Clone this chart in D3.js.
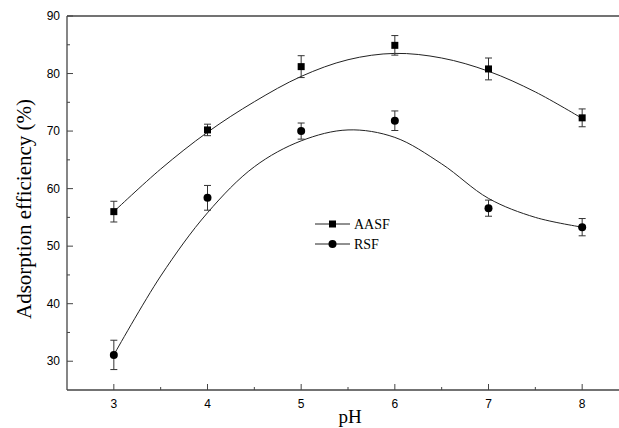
<!DOCTYPE html>
<html>
<head>
<meta charset="utf-8">
<script src="https://cdn.jsdelivr.net/npm/d3@7"></script>
<style>
  body { margin: 0; background: #fff; overflow: hidden; }
  svg { display: block; }
</style>
</head>
<body>
<div id="chart"></div>
<script>
// Measured points (pH, adsorption %, error)
const phValues = [3, 4, 5, 6, 7, 8];
const aasfValues = [56.0, 70.2, 81.2, 84.9, 80.8, 72.3];
const aasfErrors = [1.8, 1.0, 1.9, 1.7, 1.9, 1.55];
const rsfValues = [31.1, 58.4, 70.0, 71.8, 56.6, 53.3];
const rsfErrors = [2.55, 2.15, 1.4, 1.7, 1.4, 1.5];

// Fitted curves
const fitPh = [3, 3.5, 4, 4.5, 5, 5.5, 6, 6.5, 7, 7.5, 8];
const aasfFit = [56.0, 63.4, 69.8, 75.1, 79.5, 82.4, 83.5, 82.7, 80.4, 76.8, 72.2];
const rsfFit = [31.1, 44.8, 55.8, 63.8, 68.3, 70.2, 68.9, 64.3, 58.3, 55.0, 53.3];

const xTicks = [3, 4, 5, 6, 7, 8];
const yTicks = [30, 40, 50, 60, 70, 80, 90];

const width = 619;
const height = 428;

const svg = d3.select('#chart')
  .append('svg')
  .attr('width', width)
  .attr('height', height);

// plot area runs past the right edge of the picture, as in the original
const x = d3.scaleLinear().domain([2.5, 8.5]).range([67, 629]);
const y = d3.scaleLinear().domain([25, 90]).range([390, 16]);

const axisColor = '#444';

// frame: left, top and bottom only (right side is cut off)
const frame = svg.append('g')
  .attr('stroke', axisColor)
  .attr('stroke-width', 1.3);
frame.append('line')
  .attr('x1', x(2.5)).attr('x2', x(2.5))
  .attr('y1', y(90)).attr('y2', y(25));
frame.append('line')
  .attr('x1', x(2.5)).attr('x2', width)
  .attr('y1', y(90)).attr('y2', y(90));
frame.append('line')
  .attr('x1', x(2.5)).attr('x2', width)
  .attr('y1', y(25)).attr('y2', y(25));

// x ticks (inward)
const xMinor = d3.range(3.5, 8.5, 1);
svg.selectAll('.xmajor')
  .data(xTicks)
  .enter().append('line')
  .attr('x1', d => x(d)).attr('x2', d => x(d))
  .attr('y1', y(25)).attr('y2', y(25) - 6)
  .attr('stroke', axisColor).attr('stroke-width', 1);
svg.selectAll('.xminor')
  .data(xMinor)
  .enter().append('line')
  .attr('x1', d => x(d)).attr('x2', d => x(d))
  .attr('y1', y(25)).attr('y2', y(25) - 3)
  .attr('stroke', axisColor).attr('stroke-width', 1);
svg.selectAll('.xlabel')
  .data(xTicks)
  .enter().append('text')
  .attr('x', d => x(d))
  .attr('y', 408)
  .attr('text-anchor', 'middle')
  .style('font-family', '"Liberation Sans", Arial, sans-serif')
  .style('font-size', '12px')
  .text(d => d);

// y ticks (inward)
const yMinor = d3.range(35, 90, 10);
svg.selectAll('.ymajor')
  .data(yTicks)
  .enter().append('line')
  .attr('x1', x(2.5)).attr('x2', x(2.5) + 6)
  .attr('y1', d => y(d)).attr('y2', d => y(d))
  .attr('stroke', axisColor).attr('stroke-width', 1);
svg.selectAll('.yminor')
  .data(yMinor)
  .enter().append('line')
  .attr('x1', x(2.5)).attr('x2', x(2.5) + 3)
  .attr('y1', d => y(d)).attr('y2', d => y(d))
  .attr('stroke', axisColor).attr('stroke-width', 1);
svg.selectAll('.ylabel')
  .data(yTicks)
  .enter().append('text')
  .attr('x', 60)
  .attr('y', d => y(d) + 4)
  .attr('text-anchor', 'end')
  .style('font-family', '"Liberation Sans", Arial, sans-serif')
  .style('font-size', '12px')
  .text(d => d);

// axis titles
svg.append('text')
  .attr('x', 350)
  .attr('y', 423)
  .attr('text-anchor', 'middle')
  .style('font-family', '"Liberation Serif", "Times New Roman", serif')
  .style('font-size', '19px')
  .text('pH');

svg.append('text')
  .attr('transform', 'translate(31, 209) rotate(-90)')
  .attr('text-anchor', 'middle')
  .style('font-family', '"Liberation Serif", "Times New Roman", serif')
  .style('font-size', '21px')
  .text('Adsorption efficiency (%)');

// fitted curves
const line = d3.line()
  .x(d => x(d[0]))
  .y(d => y(d[1]))
  .curve(d3.curveCatmullRom.alpha(0.5));

[aasfFit, rsfFit].forEach(fit => {
  svg.append('path')
    .datum(fitPh.map((p, i) => [p, fit[i]]))
    .attr('d', line)
    .attr('fill', 'none')
    .attr('stroke', '#222')
    .attr('stroke-width', 1);
});

// error bars
function drawErrors(values, errors) {
  const pts = phValues.map((p, i) => ({ p, v: values[i], e: errors[i] }));
  const g = svg.append('g').attr('stroke', '#333').attr('stroke-width', 1);
  g.selectAll('.bar').data(pts).enter().append('line')
    .attr('x1', d => x(d.p)).attr('x2', d => x(d.p))
    .attr('y1', d => y(d.v + d.e)).attr('y2', d => y(d.v - d.e));
  g.selectAll('.capTop').data(pts).enter().append('line')
    .attr('x1', d => x(d.p) - 3.5).attr('x2', d => x(d.p) + 3.5)
    .attr('y1', d => y(d.v + d.e)).attr('y2', d => y(d.v + d.e));
  g.selectAll('.capBot').data(pts).enter().append('line')
    .attr('x1', d => x(d.p) - 3.5).attr('x2', d => x(d.p) + 3.5)
    .attr('y1', d => y(d.v - d.e)).attr('y2', d => y(d.v - d.e));
}
drawErrors(aasfValues, aasfErrors);
drawErrors(rsfValues, rsfErrors);

// markers
svg.selectAll('.sq')
  .data(phValues.map((p, i) => [p, aasfValues[i]]))
  .enter().append('rect')
  .attr('x', d => x(d[0]) - 3.5)
  .attr('y', d => y(d[1]) - 3.5)
  .attr('width', 7)
  .attr('height', 7)
  .attr('fill', '#000');

svg.selectAll('.dot')
  .data(phValues.map((p, i) => [p, rsfValues[i]]))
  .enter().append('circle')
  .attr('cx', d => x(d[0]))
  .attr('cy', d => y(d[1]))
  .attr('r', 4)
  .attr('fill', '#000');

// legend
const legend = svg.append('g');
legend.append('line')
  .attr('x1', 315).attr('x2', 350).attr('y1', 224).attr('y2', 224)
  .attr('stroke', '#222').attr('stroke-width', 1);
legend.append('rect')
  .attr('x', 329).attr('y', 220.5).attr('width', 7).attr('height', 7)
  .attr('fill', '#000');
legend.append('text')
  .attr('x', 354).attr('y', 229)
  .style('font-family', '"Liberation Serif", "Times New Roman", serif')
  .style('font-size', '14px')
  .text('AASF');
legend.append('line')
  .attr('x1', 315).attr('x2', 350).attr('y1', 244).attr('y2', 244)
  .attr('stroke', '#222').attr('stroke-width', 1);
legend.append('circle')
  .attr('cx', 332.5).attr('cy', 244).attr('r', 4)
  .attr('fill', '#000');
legend.append('text')
  .attr('x', 354).attr('y', 249)
  .style('font-family', '"Liberation Serif", "Times New Roman", serif')
  .style('font-size', '14px')
  .text('RSF');
</script>
</body>
</html>
